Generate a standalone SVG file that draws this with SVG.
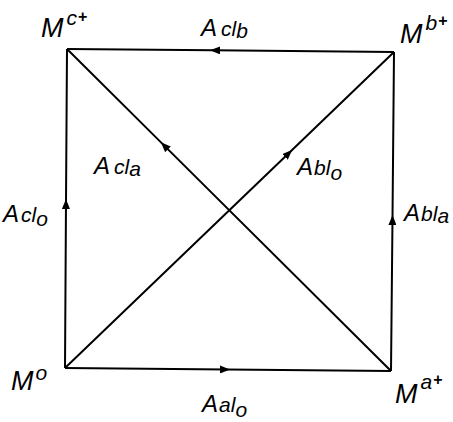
<svg xmlns="http://www.w3.org/2000/svg" width="453" height="422" viewBox="0 0 453 422">
<style>
.edge{fill:none;stroke:#000;stroke-width:2;marker-mid:url(#arr)}
.t{font-family:"Liberation Sans",Arial,sans-serif;font-style:italic;fill:#000}
.m{font-size:27px}
.sup{font-size:21px}
.pl{font-size:16px;font-style:normal;font-weight:bold}
.a{font-size:24px}
.s{font-size:21px}
</style>
<defs>
<marker id="arr" viewBox="0 0 10 8" refX="7" refY="4" markerWidth="10" markerHeight="8" markerUnits="userSpaceOnUse" orient="auto">
<path d="M0,0 L10,4 L0,8 Z" fill="#000"/>
</marker>
</defs>
<rect width="453" height="422" fill="#fff"/>
<g id="connectors">
<path id="e-Aalo" class="edge" d="M65,368 L227,369.5 L391,371"/>
<path id="e-Abla" class="edge" d="M391,371 L392.5,218 L394,52"/>
<path id="e-Aclb" class="edge" d="M394,52 L213,50.3 L67,49"/>
<path id="e-Aclo" class="edge" d="M65,368 L66,202 L67,49"/>
<path id="e-Acla" class="edge" d="M391,371 L163,144.4 L67,49"/>
<path id="e-Ablo" class="edge" d="M65,368 L290,152 L394,52"/>
</g>
<g id="node-Mc">
<text class="t m" x="41" y="37">M<tspan class="sup" dx="3" dy="-12">c</tspan><tspan class="pl" dx="1" dy="-3">+</tspan></text>
</g>
<g id="node-Mb">
<text class="t m" x="400" y="43">M<tspan class="sup" dx="3" dy="-13">b</tspan><tspan class="pl" dx="1" dy="-4">+</tspan></text>
</g>
<g id="node-M0">
<text class="t m" x="11" y="390">M<tspan class="sup" dx="2" dy="-10">o</tspan></text>
</g>
<g id="node-Ma">
<text class="t m" x="395" y="403">M<tspan class="sup" dx="3" dy="-14">a</tspan><tspan class="pl" dx="1" dy="-4">+</tspan></text>
</g>
<g id="labels">
<text class="t a" x="201" y="36">A<tspan class="s" dx="4">cl</tspan><tspan class="s" dy="2">b</tspan></text>
<text class="t a" x="94" y="174">A<tspan class="s" dx="4">cl</tspan><tspan class="s" dy="2">a</tspan></text>
<text class="t a" x="297" y="175">A<tspan class="s" dx="1">bl</tspan><tspan class="s" dy="5">o</tspan></text>
<text class="t a" x="3" y="222">A<tspan class="s" dx="2">cl</tspan><tspan class="s" dy="4">o</tspan></text>
<text class="t a" x="404" y="221">A<tspan class="s" dx="1">bl</tspan><tspan class="s" dy="2">a</tspan></text>
<text class="t a" x="202" y="412">A<tspan class="s" dx="1">al</tspan><tspan class="s" dy="5">o</tspan></text>
</g>
</svg>
